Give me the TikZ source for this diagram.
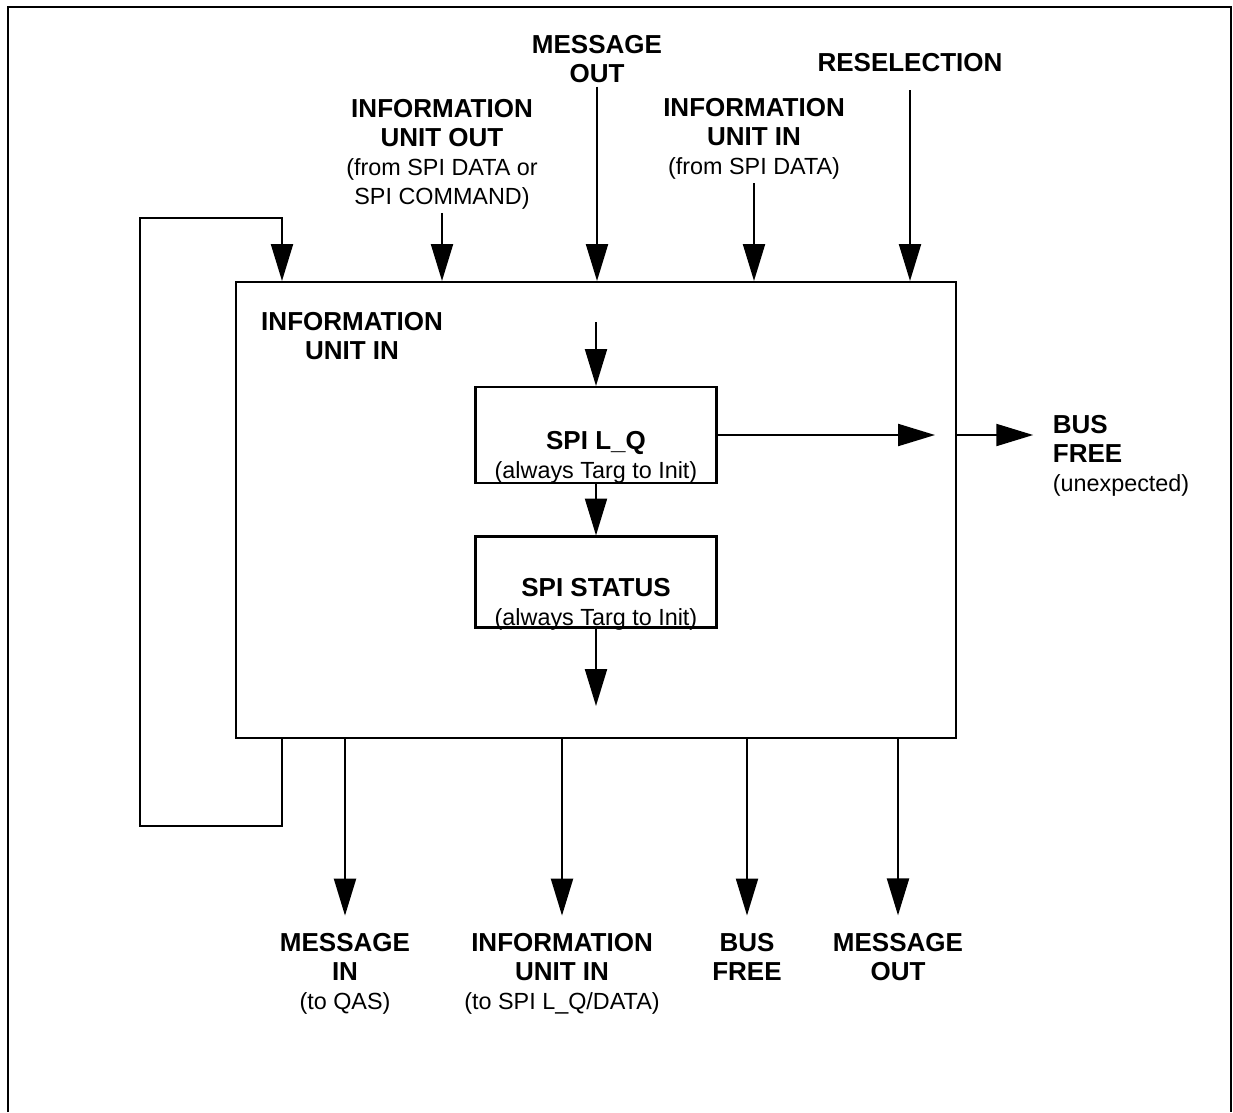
\documentclass[tikz,border=0pt]{standalone}
\usepackage{fontspec}
\setmainfont{Liberation Sans}
\usepackage{tikz}
\usetikzlibrary{arrows.meta}

\newcommand{\subtxt}[1]{{\normalfont\fontsize{13.3}{16.5}\selectfont #1}}

\begin{document}
\begin{tikzpicture}[x=0.02cm, y=-0.02cm,
  lbl/.style={align=center, font=\fontsize{14.8}{16.5}\selectfont\bfseries, inner sep=2pt},
  box/.style={draw, line width=1.2pt, inner sep=0pt},
  arr/.style={-{Triangle[length=21pt, width=12.5pt]}, line width=1.2pt}]
\useasboundingbox (0,0) rectangle (1233,1112);
\draw[line width=1.3pt] (8,1112) |- (1231,7) -- (1231,1112);

\path (596,510) node[box, minimum width=14.4cm, minimum height=9.12cm](main) {};
\path (596,435) node[box, minimum width=4.82cm, minimum height=1.92cm](lq) {};
\path (596,582) node[box, minimum width=4.82cm, minimum height=1.82cm](status) {};
\path (596,457) node[lbl](lq-text) {SPI L\_Q\\ \subtxt{(always Targ to Init)}};
\path (596,604) node[lbl](status-text) {SPI STATUS\\ \subtxt{(always Targ to Init)}};
\path (352,336) node[lbl](iu-in-inner) {INFORMATION\\ UNIT IN};

\path (442,154) node[lbl](iu-out-top) {INFORMATION\\ UNIT OUT\\ \subtxt{(from SPI DATA or}\\ \subtxt{SPI COMMAND)}};
\path (597,59) node[lbl](msg-out-top) {MESSAGE\\ OUT};
\path (754,139) node[lbl](iu-in-top) {INFORMATION\\ UNIT IN\\ \subtxt{(from SPI DATA)}};
\path (910,63) node[lbl](resel-top) {RESELECTION};

\path (1049,456) node[lbl, anchor=west, align=left](bus-free-right) {BUS\\ FREE\\ \subtxt{(unexpected)}};

\path (345,974) node[lbl](msg-in-bot) {MESSAGE\\ IN\\ \subtxt{(to QAS)}};
\path (562,974) node[lbl](iu-in-bot) {INFORMATION\\ UNIT IN\\ \subtxt{(to SPI L\_Q/DATA)}};
\path (747,957) node[lbl](bus-free-bot) {BUS\\ FREE};
\path (898,957) node[lbl](msg-out-bot) {MESSAGE\\ OUT};

\coordinate (lq-in) at (596,322);
\coordinate (lq-out) at (935,435);
\coordinate (status-out) at (596,706);
\coordinate (loop-top) at (282,218);
\coordinate (loop-bot) at (140,826);

\draw[arr] (iu-out-top.south) -- (iu-out-top.south |- main.north);
\draw[arr] (msg-out-top.south) -- (msg-out-top.south |- main.north);
\draw[arr] (iu-in-top.south) -- (iu-in-top.south |- main.north);
\draw[arr, shorten <=8pt] (resel-top.south) -- (resel-top.south |- main.north);

\draw[arr] (lq-in) -- (lq.north);
\draw[arr] (lq.south) -- (status.north);
\draw[arr] (status.south) -- (status-out);
\draw[arr] (lq.east) -- (lq-out);
\draw[arr, shorten >=9pt] (main.east |- lq.east) -- (bus-free-right.west |- lq.east);

\draw[arr] (main.south -| loop-top) |- (loop-bot) |- (loop-top) -- (main.north -| loop-top);

\draw[arr, shorten >=8pt] (main.south -| msg-in-bot.north) -- (msg-in-bot.north);
\draw[arr, shorten >=8pt] (main.south -| iu-in-bot.north) -- (iu-in-bot.north);
\draw[arr, shorten >=8pt] (main.south -| bus-free-bot.north) -- (bus-free-bot.north);
\draw[arr, shorten >=8pt] (main.south -| msg-out-bot.north) -- (msg-out-bot.north);
\end{tikzpicture}
\end{document}
